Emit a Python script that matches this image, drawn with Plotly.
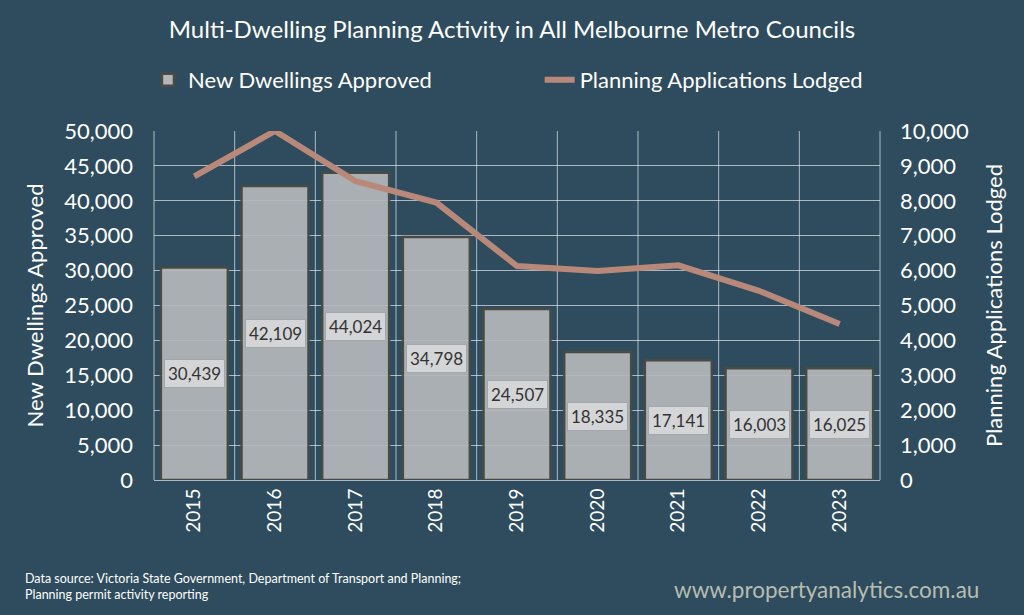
import plotly.graph_objects as go

years = ["2015", "2016", "2017", "2018", "2019", "2020", "2021", "2022", "2023"]
dwellings = [30439, 42109, 44024, 34798, 24507, 18335, 17141, 16003, 16025]
applications = [8700, 10000, 8560, 7950, 6130, 5990, 6150, 5420, 4470]

BG = "#2e4c5d"
FONT = "Lato"
GRID = "rgba(225,232,238,0.7)"

fig = go.Figure()
fig.add_trace(go.Bar(
    x=years, y=dwellings, name="New Dwellings Approved", legend="legend",
    marker=dict(color="#b4b7ba", line=dict(color="#4a4b42", width=2.5), opacity=0.93),
    hoverinfo="skip",
))
fig.add_trace(go.Scatter(
    x=years, y=applications, name="Planning Applications Lodged", yaxis="y2", legend="legend2",
    mode="lines", line=dict(color="#b8897a", width=6),
))

for i, v in enumerate(dwellings):
    fig.add_annotation(
        x=i, y=v / 2, xref="x", yref="y", text=f"{v:,}", showarrow=False,
        font=dict(family=FONT, size=17, color="#333333"),
        bgcolor="#d3d5d7", bordercolor="#a4a7aa", borderwidth=1, borderpad=3,
    )

leg_common = dict(orientation="h", xref="container", y=0.87, yref="container",
                  yanchor="middle", xanchor="left",
                  font=dict(size=22, color="white", family=FONT),
                  bgcolor="rgba(0,0,0,0)", itemwidth=30)

fig.update_layout(
    width=1024, height=615,
    paper_bgcolor=BG, plot_bgcolor=BG,
    margin=dict(l=154, r=144, t=131, b=135),
    font=dict(family=FONT, color="white"),
    title=dict(text="Multi-Dwelling Planning Activity in All Melbourne Metro Councils",
               x=0.5, xanchor="center", y=0.952, yanchor="middle",
               font=dict(size=24, color="white", family=FONT)),
    bargap=0.17,
    showlegend=True,
    legend=dict(x=0.1445, **leg_common),
    legend2=dict(x=0.527, **leg_common),
    xaxis=dict(type="category", range=[-0.5, len(years) - 0.5], showgrid=False, tickangle=-90,
               tickfont=dict(size=19, color="white"),
               showline=True, linecolor=GRID, linewidth=1, ticks=""),
    yaxis=dict(range=[0, 50000], dtick=5000, tickformat=",", showgrid=True,
               gridcolor=GRID, gridwidth=1, zeroline=False, ticklabelstandoff=20,
               tickfont=dict(size=22, color="white"),
               title=dict(text="New Dwellings Approved", font=dict(size=22, color="white"), standoff=14)),
    yaxis2=dict(range=[0, 10000], dtick=1000, tickformat=",", overlaying="y", side="right",
                showgrid=False, zeroline=False, ticklabelstandoff=19,
                tickfont=dict(size=22, color="white"),
                title=dict(text="Planning Applications Lodged", font=dict(size=22, color="white"), standoff=18)),
)

# vertical grid lines at category boundaries
n = len(years)
for i in range(n + 1):
    fig.add_shape(type="line", xref="paper", yref="paper", x0=i / n, x1=i / n, y0=0, y1=1,
                  line=dict(color=GRID, width=1), layer="below")

fig.add_annotation(
    text="Data source: Victoria State Government, Department of Transport and Planning;<br>Planning permit activity reporting",
    xref="paper", yref="paper", x=-0.18, y=-0.255, xanchor="left", yanchor="top",
    align="left", showarrow=False, font=dict(size=12.5, color="white", family=FONT))
fig.add_annotation(
    text="www.propertyanalytics.com.au", xref="paper", yref="paper",
    x=1.139, y=-0.27, xanchor="right", yanchor="top", showarrow=False,
    font=dict(size=22.5, color="#b7bdb1", family=FONT))

fig.write_html("out.html")
